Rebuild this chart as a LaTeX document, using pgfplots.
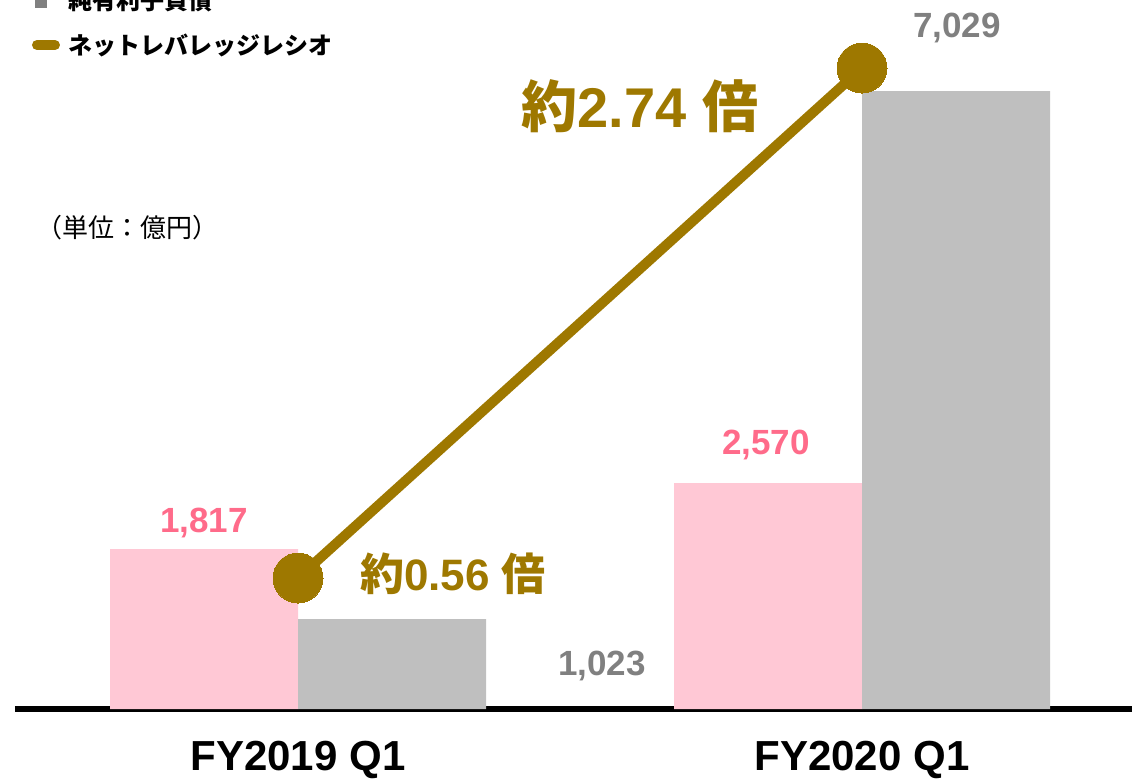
\documentclass[border=0pt]{standalone}
\usepackage{pgfplots}
\pgfplotsset{compat=1.18}
\usepackage{fontspec}
\setmainfont{Liberation Sans}
\newfontfamily\cjk{Noto Sans CJK JP}
\definecolor{gold}{HTML}{9E7800}
\definecolor{barpink}{HTML}{FFC8D5}
\definecolor{txtpink}{HTML}{FF6B8A}
\definecolor{bargray}{HTML}{BFBFBF}
\definecolor{txtgray}{HTML}{808080}
% 1 px of the reference = 0.5pt
\pgfplotsset{base/.style={
    scale only axis, width=558.5pt, height=354.5pt,
    at={(7.5pt,0)}, anchor=south west,
    xmin=-0.5018, xmax=1.4787, clip=false}}
\begin{document}
\begin{tikzpicture}
\useasboundingbox (0,-34.5pt) rectangle (566pt,354.5pt);
\begin{axis}[base,
    ymin=0, ymax=8064,
    axis y line=none, axis x line*=bottom,
    x axis line style={line width=3pt,-},
    xtick={0,1}, major tick length=0pt,
    xticklabels={FY2019 Q1,FY2020 Q1},
    x tick label style={anchor=center, yshift=-25.5pt,
        font=\fontsize{21}{25}\selectfont\bfseries},
]
\addplot[ybar, bar width=0.3333, bar shift=-0.16667, fill=barpink, draw=none]
    coordinates {(0,1817) (1,2570)};
\addplot[ybar, bar width=0.3333, bar shift=0.16667, fill=bargray, draw=none]
    coordinates {(0,1023) (1,7029)};
\begin{scope}[font=\fontsize{17.5}{20}\selectfont\bfseries]
\node[txtpink] at (axis cs:-0.1667,2116) {1,817};
\node[txtpink] at (axis cs:0.8298,3003) {2,570};
\node[txtgray] at (axis cs:1.1684,7746) {7,029};
\node[txtgray] at (axis cs:0.539,489) {1,023};
\end{scope}
\node[gold, font=\fontsize{28}{32}\selectfont\bfseries]
    at (axis cs:0.606,6859) {{\cjk 約}2.74 {\cjk 倍}};
\node[gold, font=\fontsize{22}{26}\selectfont\bfseries]
    at (axis cs:0.2748,1535) {{\cjk 約}0.56 {\cjk 倍}};
\node[anchor=west, inner sep=0pt, font=\fontsize{13}{15}\selectfont\cjk]
    at (axis cs:-0.4645,5471) {（単位：億円）};
% legend
\fill[txtgray] (axis cs:-0.4663,7973) rectangle (axis cs:-0.445,8150);
\node[anchor=west, inner sep=0pt, font=\fontsize{12}{15}\selectfont\cjk\bfseries]
    at (axis cs:-0.4078,8064) {純有利子負債};
\draw[gold, line width=5pt, line cap=round] (axis cs:-0.4628,7552) -- (axis cs:-0.4309,7552);
\node[anchor=west, inner sep=0pt, font=\fontsize{12}{15}\selectfont\cjk\bfseries]
    at (axis cs:-0.4078,7552) {ネットレバレッジレシオ};
\end{axis}
\begin{axis}[base, ymin=0, ymax=3.031, hide axis]
\addplot[gold, line width=5pt, mark=*, mark size=12.5pt,
    mark options={fill=gold, draw=gold, line width=0pt}]
    coordinates {(0,0.56) (1,2.74)};
\end{axis}
\end{tikzpicture}
\end{document}
